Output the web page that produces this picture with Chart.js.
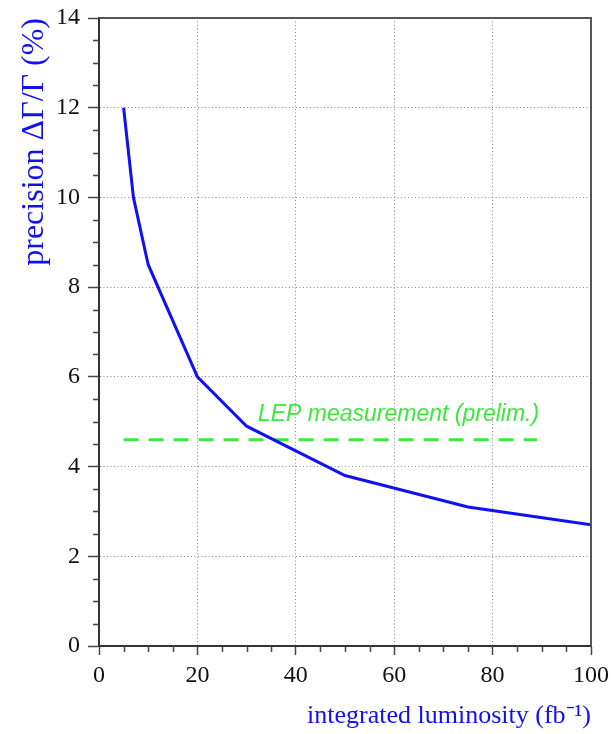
<!doctype html>
<html>
  <head>
    <meta charset="UTF-8">
    <title>Width precision vs luminosity</title>
    <script src="https://cdn.jsdelivr.net/npm/chart.js"></script>
    <style>
      html, body { margin: 0; padding: 0; background: #fff; }
      #wrap { width: 611px; height: 734px; }
    </style>
  </head>
  <body>
    <div id="wrap"><canvas id="chart" width="611" height="734"></canvas></div>
    <script>
      // integrated luminosity (fb^-1) and expected precision (%)
      const lumi = [5, 7, 10, 20, 30, 50, 75, 100];
      const precision = [12.0, 10.0, 8.5, 6.0, 4.9, 3.8, 3.1, 2.7];

      // LEP reference value (dashed line)
      const lepRange = [5, 89];
      const lepValue = [4.6, 4.6];

      const xTicks = [0, 20, 40, 60, 80, 100];
      const yTicks = [0, 2, 4, 6, 8, 10, 12, 14];

      const serif = "'Liberation Serif', 'Times New Roman', serif";
      const blue = '#1010f2';
      const green = '#3de83d';

      // minor ticks, frame and the LEP label
      const decorations = {
        id: 'decorations',
        afterDraw(chart) {
          const { ctx, chartArea: a, scales: { x, y } } = chart;
          ctx.save();
          ctx.strokeStyle = '#444';
          ctx.lineWidth = 1.5;
          ctx.beginPath();
          for (let v = 0; v <= 14; v += 0.5) {
            if (v % 2 === 0) continue;
            const py = Math.round(y.getPixelForValue(v)) + 0.5;
            ctx.moveTo(a.left - 6, py);
            ctx.lineTo(a.left, py);
          }
          for (let v = 0; v <= 100; v += 5) {
            if (v % 20 === 0) continue;
            const px = Math.round(x.getPixelForValue(v)) + 0.5;
            ctx.moveTo(px, a.bottom);
            ctx.lineTo(px, a.bottom + 6);
          }
          ctx.stroke();

          // top and right frame
          ctx.strokeStyle = '#555';
          ctx.lineWidth = 2;
          ctx.beginPath();
          ctx.moveTo(a.left, a.top);
          ctx.lineTo(a.right, a.top);
          ctx.lineTo(a.right, a.bottom);
          ctx.stroke();

          ctx.fillStyle = green;
          ctx.font = "italic 23px 'Liberation Sans', Arial, sans-serif";
          ctx.textAlign = 'left';
          ctx.textBaseline = 'alphabetic';
          ctx.fillText('LEP measurement (prelim.)', x.getPixelForValue(32.3), y.getPixelForValue(5.02));
          ctx.restore();
        }
      };

      new Chart('chart', {
        type: 'line',
        data: {
          datasets: [
            {
              data: lumi.map((v, i) => ({ x: v, y: precision[i] })),
              borderColor: blue,
              borderWidth: 3,
              pointRadius: 0,
              tension: 0,
            },
            {
              data: lepRange.map((v, i) => ({ x: v, y: lepValue[i] })),
              borderColor: green,
              borderWidth: 3,
              borderDash: [15, 10],
              pointRadius: 0,
            },
          ],
        },
        options: {
          responsive: false,
          animation: false,
          layout: { padding: { top: 18, right: 20, left: 0, bottom: 0 } },
          plugins: { legend: { display: false }, tooltip: { enabled: false } },
          scales: {
            x: {
              type: 'linear',
              min: 0,
              max: 100,
              afterFit: (s) => {
                s.height = 88;
                s.paddingLeft = 0;
                s.paddingRight = 0;
              },
              afterBuildTicks: (s) => { s.ticks = xTicks.map((v) => ({ value: v })); },
              ticks: {
                color: '#111',
                font: { family: serif, size: 24 },
                padding: 6,
                maxRotation: 0,
              },
              grid: {
                color: '#888',
                lineWidth: 1,
                tickColor: '#444',
                tickLength: 9,
                tickWidth: 1.5,
              },
              border: { color: '#333', width: 2, dash: [1, 2.5] },
              title: {
                display: true,
                text: 'integrated luminosity (fb\u207B\u00B9)',
                align: 'end',
                color: blue,
                font: { family: serif, size: 26 },
                padding: { top: 0, bottom: 2 },
              },
            },
            y: {
              min: 0,
              max: 14,
              afterFit: (s) => {
                s.width = 99;
                s.paddingTop = 0;
                s.paddingBottom = 0;
              },
              afterBuildTicks: (s) => { s.ticks = yTicks.map((v) => ({ value: v })); },
              ticks: {
                color: '#111',
                font: { family: serif, size: 24 },
                padding: 8,
              },
              grid: {
                color: '#888',
                lineWidth: 1,
                tickColor: '#444',
                tickLength: 11,
                tickWidth: 1.5,
              },
              border: { color: '#333', width: 2, dash: [1, 2.5] },
              title: {
                display: true,
                text: 'precision \u0394\u0393/\u0393 (%)',
                align: 'end',
                color: blue,
                font: { family: serif, size: 32 },
                padding: { top: 15, bottom: 0 },
              },
            },
          },
        },
        plugins: [decorations],
      });
    </script>
  </body>
</html>
